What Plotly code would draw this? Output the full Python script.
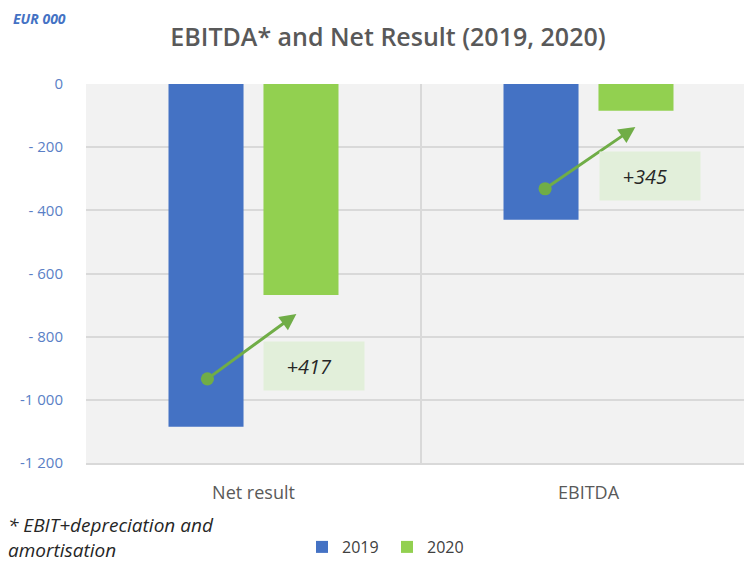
import plotly.graph_objects as go

categories = ["Net result", "EBITDA"]
years = ["2019", "2020"]
values_2019 = [-1085, -430]
values_2020 = [-668, -85]
colors = {"2019": "#4472c4", "2020": "#92d050"}
change_labels = ["+417", "+345"]
tick_vals = [0, -200, -400, -600, -800, -1000, -1200]
tick_text = ["0", "- 200", "- 400", "- 600", "- 800", "-1 000", "-1 200"]

# arrow geometry (in axis units: category index offset, value)
arrow_tail = [(-0.142, -937), (-0.134, -335)]
arrow_head = [(0.128, -728), (0.14, -136)]
label_pos = [(0.182, -892), (0.185, -291)]

FONT = "Open Sans"

fig = go.Figure()
for yr, vals in zip(years, [values_2019, values_2020]):
    fig.add_trace(go.Bar(x=categories, y=vals, name=yr, marker_color=colors[yr],
                         marker_line_width=0))

annotations = []
for i in range(len(categories)):
    tx, ty = arrow_tail[i]
    hx, hy = arrow_head[i]
    annotations.append(dict(
        x=i + hx, y=hy, ax=i + tx, ay=ty, xref="x", yref="y", axref="x", ayref="y",
        showarrow=True, arrowhead=2, arrowsize=1.1, arrowwidth=3, arrowcolor="#70ad47",
        arrowside="end+start", startarrowhead=6, startarrowsize=1.1, text=""))
    lx, ly = label_pos[i]
    annotations.append(dict(
        x=i + lx, y=ly, xref="x", yref="y", showarrow=False,
        text="<i>" + change_labels[i] + "</i>  ", width=98, height=46,
        bgcolor="#e2efda", font=dict(family=FONT, size=20, color="#262626")))

annotations += [
    dict(xref="paper", yref="paper", x=-0.1215, y=(463 - 525) / 379, xanchor="left",
         yanchor="middle", showarrow=False, text="<i>* EBIT+depreciation and</i>",
         font=dict(family=FONT, size=19, color="#262626")),
    dict(xref="paper", yref="paper", x=-0.1215, y=(463 - 550) / 379, xanchor="left",
         yanchor="middle", showarrow=False, text="<i>amortisation</i>",
         font=dict(family=FONT, size=19, color="#262626")),
    dict(xref="paper", yref="paper", x=-0.1145, y=1 + (84 - 18) / 379, xanchor="left",
         yanchor="middle", showarrow=False, text="<b><i>EUR 000</i></b>",
         font=dict(family=FONT, size=14, color="#4472c4")),
]

fig.update_layout(
    width=744, height=565,
    margin=dict(l=86, r=0, t=84, b=102),
    paper_bgcolor="white", plot_bgcolor="#f2f2f2",
    barmode="group", bargap=0.433, bargroupgap=0.21,
    title=dict(text="EBITDA* and Net Result (2019, 2020)", x=388 / 744, xanchor="center",
               y=1 - 37 / 565, yanchor="middle",
               font=dict(family=FONT, size=25, color="#595959", weight=600)),
    font=dict(family=FONT),
    legend=dict(orientation="h", x=(302 - 86) / 658, xanchor="left",
                y=(463 - 547) / 379, yanchor="middle",
                font=dict(size=16, color="#404040"), entrywidth=40,
                bgcolor="rgba(0,0,0,0)"),
    annotations=annotations,
    showlegend=True,
)
fig.update_xaxes(
    range=[-0.5, 1.5 - 12 / 335], tickson="boundaries", showgrid=True, gridcolor="#d9d9d9",
    gridwidth=1.5, ticks="", showline=True, linecolor="#d9d9d9", linewidth=1.5,
    tickfont=dict(size=18, color="#595959"), ticklabelstandoff=13, zeroline=False)
fig.update_yaxes(
    range=[-1200, 0], tickvals=tick_vals, ticktext=tick_text, showgrid=True,
    gridcolor="#d9d9d9", gridwidth=1.5, zeroline=False, showline=False,
    tickfont=dict(size=15, color="#5a7fc6"), ticklabelstandoff=22)

fig.write_html("out.html")
